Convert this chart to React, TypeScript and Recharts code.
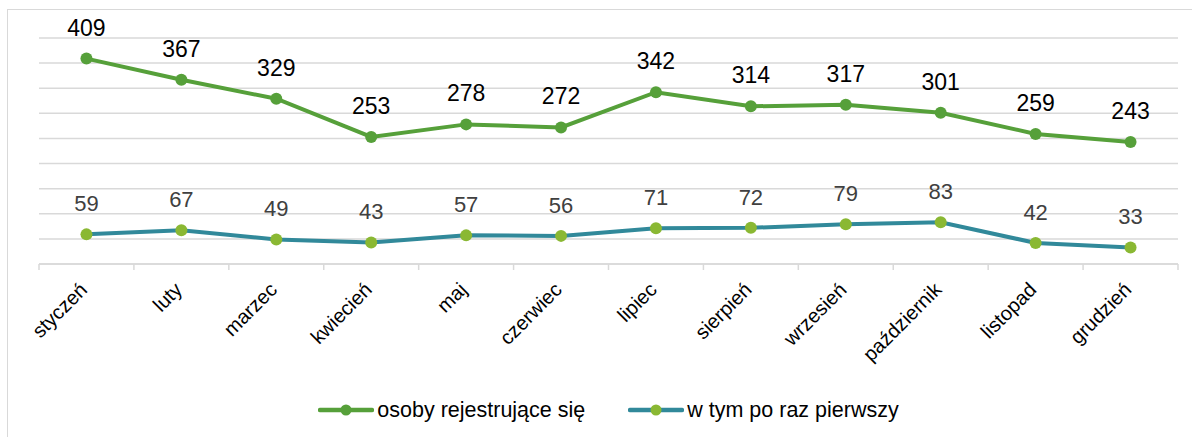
import React from 'react';
import { LineChart, Line, XAxis, YAxis, CartesianGrid, LabelList, Legend } from 'recharts';

const months = ['styczeń', 'luty', 'marzec', 'kwiecień', 'maj', 'czerwiec', 'lipiec', 'sierpień', 'wrzesień', 'październik', 'listopad', 'grudzień'];
const registering = [409, 367, 329, 253, 278, 272, 342, 314, 317, 301, 259, 243];
const firstTime = [59, 67, 49, 43, 57, 56, 71, 72, 79, 83, 42, 33];
const yTicks = [0, 50, 100, 150, 200, 250, 300, 350, 400, 450];

const seriesNames = ['osoby rejestrujące się', 'w tym po raz pierwszy'];

const data = months.map((m, i) => ({ month: m, a: registering[i], b: firstTime[i] }));

const W = 1192;
const H = 437;
const M = { top: 38, right: 14, left: 39, bottom: 0 };
const BAND = (W - M.left - M.right) / months.length;
const FONT = '"Liberation Sans", Arial, sans-serif';

const Tick = (props: any) => {
  const { x, y, payload, index } = props;
  const left = x - BAND / 2;
  const ax = x + 2;
  const ay = y + 19;
  return (
    <g>
      <line x1={left} y1={y - 8} x2={left} y2={y - 2} stroke="#d9d9d9" strokeWidth={1.5} />
      {index === months.length - 1 && (
        <line x1={left + BAND} y1={y - 8} x2={left + BAND} y2={y - 2} stroke="#d9d9d9" strokeWidth={1.5} />
      )}
      <text
        x={ax}
        y={ay}
        textAnchor="end"
        transform={`rotate(-45, ${ax}, ${ay})`}
        fontSize={20}
        fontFamily={FONT}
        fill="#000"
      >
        {payload.value}
      </text>
    </g>
  );
};

const LegendContent = () => {
  const items = [
    { name: seriesNames[0], line: '#56a03a', dot: '#56a03a' },
    { name: seriesNames[1], line: '#31899a', dot: '#8ab833' },
  ];
  return (
    <div style={{ height: 54, display: 'flex', justifyContent: 'center', alignItems: 'center', fontFamily: FONT, fontSize: 21.5, color: '#000' }}>
      {items.map((it, i) => (
        <div key={i} style={{ display: 'flex', alignItems: 'center', marginLeft: i ? 43 : 0 }}>
          <svg width={56} height={14} style={{ marginRight: 3 }}>
            <line x1={2} y1={7} x2={54} y2={7} stroke={it.line} strokeWidth={4.5} strokeLinecap="round" />
            <circle cx={28} cy={7} r={5.5} fill={it.dot} />
          </svg>
          <span style={{ lineHeight: '24px' }}>{it.name}</span>
        </div>
      ))}
    </div>
  );
};

export default function App() {
  return (
    <div style={{ position: 'absolute', left: 0, top: 0, width: W, height: H, background: '#fff', overflow: 'hidden' }}>
      <div style={{ position: 'absolute', left: 7, top: 9, width: 1200, height: 440, border: '1px solid #d9d9d9' }} />
      <div style={{ position: 'absolute', left: 0, top: 0 }}>
        <LineChart width={W} height={H} data={data} margin={M}>
          <CartesianGrid horizontal vertical={false} stroke="#d9d9d9" strokeWidth={1.5} />
          <XAxis
            dataKey="month"
            interval={0}
            height={119}
            stroke="#d9d9d9"
            strokeWidth={1.5}
            tickLine={false}
            padding={{ left: BAND / 2, right: BAND / 2 }}
            tick={<Tick />}
          />
          <YAxis hide domain={[0, 450]} ticks={yTicks} />
          <Legend verticalAlign="bottom" content={<LegendContent />} />
          <Line
            dataKey="a"
            name={seriesNames[0]}
            stroke="#56a03a"
            strokeWidth={4}
            dot={{ r: 6, fill: '#56a03a', stroke: '#56a03a', strokeWidth: 0 }}
            isAnimationActive={false}
          >
            <LabelList dataKey="a" position="top" offset={23} fontSize={23} fontFamily={FONT} fill="#000" />
          </Line>
          <Line
            dataKey="b"
            name={seriesNames[1]}
            stroke="#31899a"
            strokeWidth={4}
            dot={{ r: 6, fill: '#8ab833', stroke: '#8ab833', strokeWidth: 0 }}
            isAnimationActive={false}
          >
            <LabelList dataKey="b" position="top" offset={23} fontSize={22} fontFamily={FONT} fill="#404040" />
          </Line>
        </LineChart>
      </div>
    </div>
  );
}
